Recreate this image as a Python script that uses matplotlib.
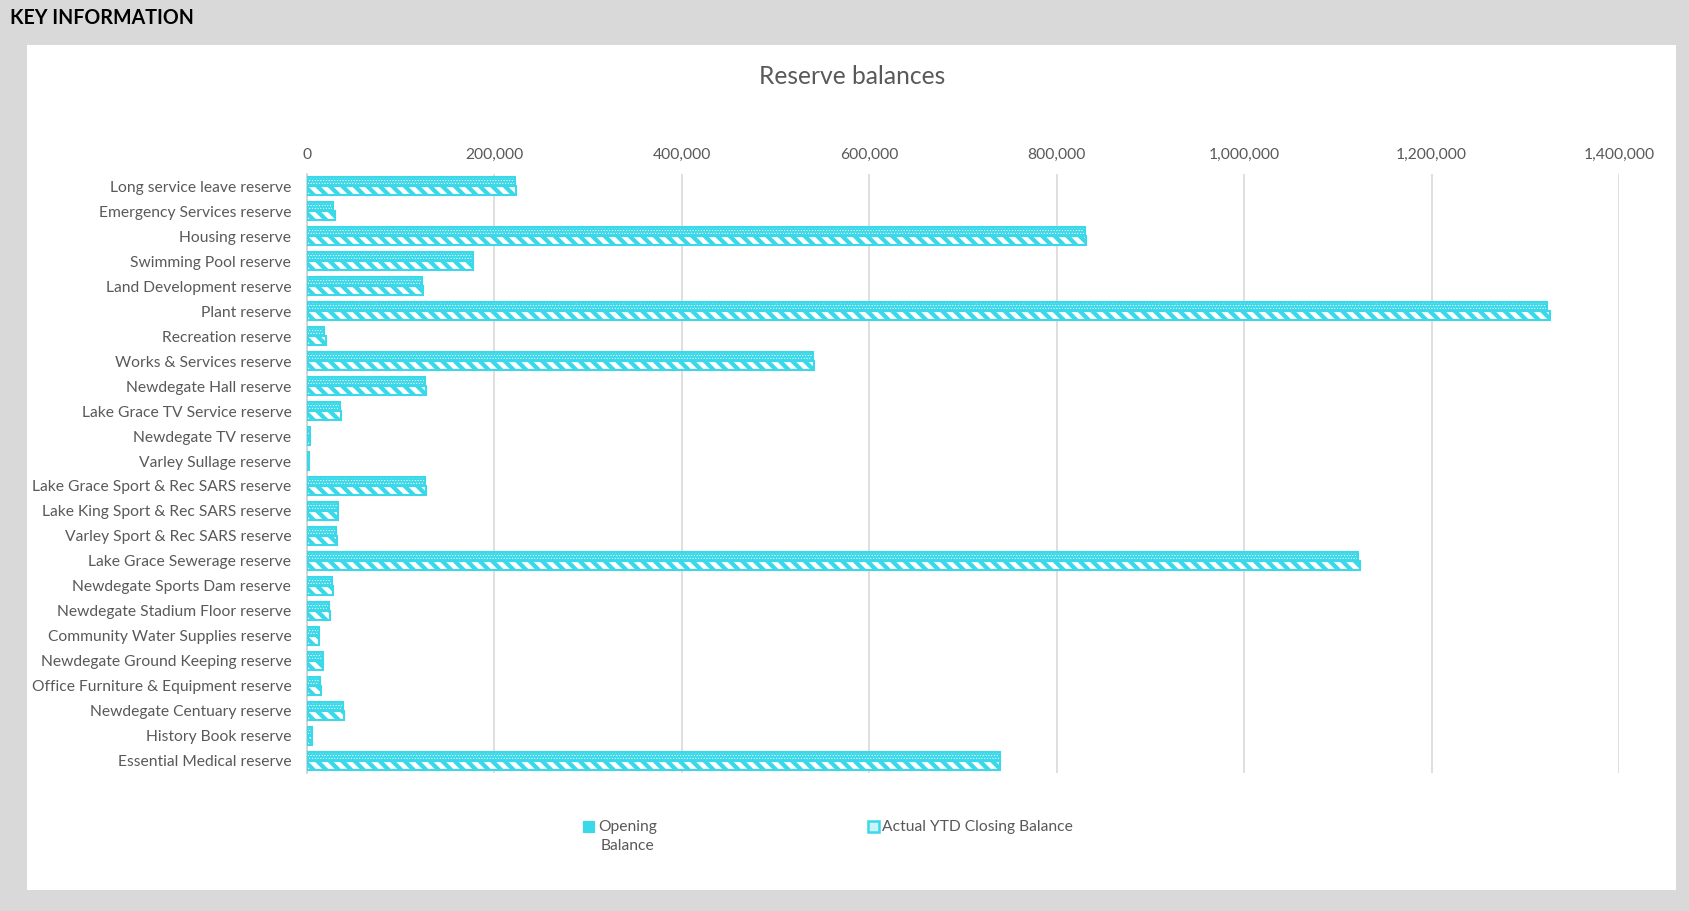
import numpy as np
import matplotlib.pyplot as plt
from matplotlib.patches import Rectangle
from matplotlib.ticker import FuncFormatter

plt.rcParams['font.family'] = ['Lato', 'DejaVu Sans']

reserves = [
    "Long service leave reserve",
    "Emergency Services reserve",
    "Housing reserve",
    "Swimming Pool reserve",
    "Land Development reserve",
    "Plant reserve",
    "Recreation reserve",
    "Works & Services reserve",
    "Newdegate Hall reserve",
    "Lake Grace TV Service reserve",
    "Newdegate TV reserve",
    "Varley Sullage reserve",
    "Lake Grace Sport & Rec SARS reserve",
    "Lake King Sport & Rec SARS reserve",
    "Varley Sport & Rec SARS reserve",
    "Lake Grace Sewerage reserve",
    "Newdegate Sports Dam reserve",
    "Newdegate Stadium Floor reserve",
    "Community Water Supplies reserve",
    "Newdegate Ground Keeping reserve",
    "Office Furniture & Equipment reserve",
    "Newdegate Centuary reserve",
    "History Book reserve",
    "Essential Medical reserve",
]

opening = [222000, 27700, 830000, 176800, 123000, 1323000, 18000, 540000,
           126000, 35000, 3000, 2500, 126000, 32700, 31000, 1121800,
           27000, 23800, 12300, 16600, 13900, 38800, 5000, 739000]

closing = [222500, 29900, 831000, 177500, 123800, 1326600, 19800, 540500,
           126500, 36600, 3000, 2500, 126500, 33400, 31700, 1124000,
           27700, 25000, 13000, 17400, 15000, 39500, 5000, 740000]

xticks = [0, 200000, 400000, 600000, 800000, 1000000, 1200000, 1400000]

CYAN = '#3ad8e8'
GREY_TXT = '#595959'
W, H = 1689, 911


def px(x, y):
    # pixel position (from top-left) -> figure fraction
    return x / W, 1 - y / H


fig = plt.figure(figsize=(W / 150, H / 150), dpi=150)
fig.patch.set_facecolor('#d9d9d9')

# white chart panel on the grey page
fig.patches.append(Rectangle(px(27, 890), (1676 - 27) / W, (890 - 45) / H,
                             transform=fig.transFigure, facecolor='white',
                             edgecolor='none', zorder=-5))
fig.text(*px(10, 18), "KEY INFORMATION", fontsize=9.4, fontweight='bold',
         color='black', ha='left', va='center')

ax = fig.add_axes([307 / W, 1 - 773 / H, (1619 - 307) / W, (773 - 174) / H])
ax.set_facecolor('none')
ax.set_zorder(2)

y = np.arange(len(reserves))
h = 0.36

# opening balance: fine white dots
plt.rcParams['hatch.linewidth'] = 0.3
ax.barh(y - h / 2, opening, height=h, color=CYAN, edgecolor='white',
        hatch='.........', linewidth=0, zorder=3)
# closing balance: thick white diagonal stripes
plt.rcParams['hatch.linewidth'] = 2.2
ax.barh(y + h / 2, closing, height=h, color=CYAN, edgecolor='white',
        hatch='\\\\\\\\', linewidth=0, zorder=3)
ax.barh(y - h / 2, opening, height=h, fill=False, edgecolor=CYAN, linewidth=1.0, zorder=4)
ax.barh(y + h / 2, closing, height=h, fill=False, edgecolor=CYAN, linewidth=1.0, zorder=4)

ax.set_ylim(len(reserves) - 0.5, -0.5)
ax.set_yticks(y)
ax.set_yticklabels(reserves, fontsize=7.5, color=GREY_TXT)

ax.set_xlim(0, 1400000)
ax.set_xticks(xticks)
ax.xaxis.set_major_formatter(FuncFormatter(lambda v, p: f"{int(v):,}"))
ax.xaxis.tick_top()
ax.tick_params(axis='x', length=0, pad=6, labelsize=7.5, labelcolor=GREY_TXT)
ax.tick_params(axis='y', length=0, pad=7.5)
ax.grid(axis='x', color='#d9d9d9', linewidth=0.8, zorder=0)
ax.set_axisbelow(True)
for s in ['top', 'right', 'bottom']:
    ax.spines[s].set_visible(False)
ax.spines['left'].set_color('#d0d0d0')
ax.spines['left'].set_linewidth(0.8)

fig.text(*px(852, 77), "Reserve balances", fontsize=11.8, color=GREY_TXT,
         ha='center', va='center')

# legend, items aligned to the top line
plt.rcParams['hatch.linewidth'] = 0.3
fig.patches.append(Rectangle(px(583, 832), 11 / W, 11 / H, transform=fig.transFigure,
                             facecolor=CYAN, edgecolor=CYAN, hatch='.........',
                             linewidth=0.6, zorder=3))
fig.text(*px(598, 827), "Opening", fontsize=7.5, color=GREY_TXT, ha='left', va='center')
fig.text(*px(628, 846), "Balance", fontsize=7.5, color=GREY_TXT, ha='center', va='center')
fig.patches.append(Rectangle(px(868, 832), 11 / W, 11 / H, transform=fig.transFigure,
                             facecolor='#c8f4f8', edgecolor=CYAN, linewidth=1.2, zorder=3))
fig.text(*px(882, 827), "Actual YTD Closing Balance", fontsize=7.5, color=GREY_TXT,
         ha='left', va='center')

fig.savefig('out.png', dpi=150, facecolor=fig.get_facecolor())
